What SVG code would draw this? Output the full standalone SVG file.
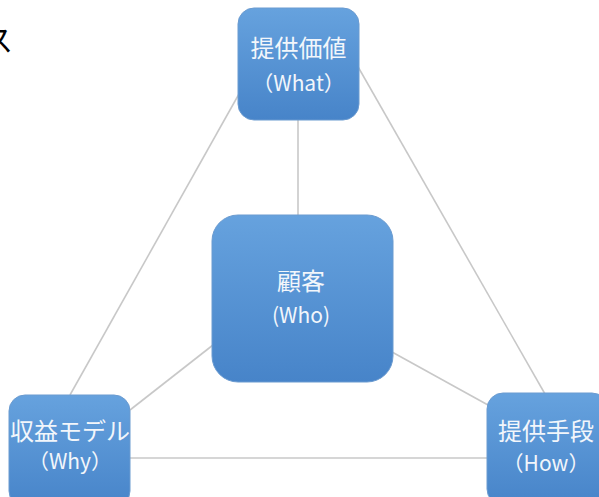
<svg xmlns="http://www.w3.org/2000/svg" width="599" height="497" viewBox="0 0 599 497">
<defs>
<linearGradient id="g" x1="0" y1="0" x2="0" y2="1">
<stop offset="0" stop-color="#66a2de"/>
<stop offset="1" stop-color="#4784c9"/>
</linearGradient>
<style>
.n{fill:url(#g);stroke:#6b9bd0;stroke-width:1}
.t{fill:#f2f6fb;font-family:"Noto Sans CJK JP","Noto Sans",sans-serif;font-size:21px;text-anchor:middle}
.j{font-size:24px}
.c{stroke:#c8c8c8;stroke-width:1.6;fill:none}
</style>
</defs>
<rect width="599" height="497" fill="#fff"/>
<text x="-17" y="51" font-family="Noto Sans CJK JP,sans-serif" font-size="30" fill="#000">ス</text>
<g id="connectors">
<line class="c" x1="244" y1="85" x2="70" y2="395"/>
<line class="c" x1="357" y1="65" x2="545" y2="394"/>
<line class="c" x1="298" y1="120" x2="298" y2="215"/>
<line class="c" x1="213" y1="345" x2="130" y2="410"/>
<line class="c" x1="392" y1="352" x2="488" y2="405"/>
<line class="c" x1="130" y1="458" x2="488" y2="458"/>
</g>
<g id="what">
<rect class="n" x="238" y="8" width="121" height="112" rx="16"/>
<text class="t j" x="298.5" y="57">提供価値</text>
<text class="t" x="298.5" y="91">（What）</text>
</g>
<g id="who">
<rect class="n" x="212" y="215" width="181" height="167" rx="26"/>
<text class="t j" x="301" y="290">顧客</text>
<text class="t" x="301" y="323">(Who)</text>
</g>
<g id="why">
<rect class="n" x="9" y="395" width="121" height="112" rx="16"/>
<text class="t j" x="70" y="440">収益モデル</text>
<text class="t" x="70" y="469">（Why）</text>
</g>
<g id="how">
<rect class="n" x="487" y="393" width="121" height="112" rx="16"/>
<text class="t j" x="546" y="440">提供手段</text>
<text class="t" x="546" y="471">（How）</text>
</g>
</svg>
